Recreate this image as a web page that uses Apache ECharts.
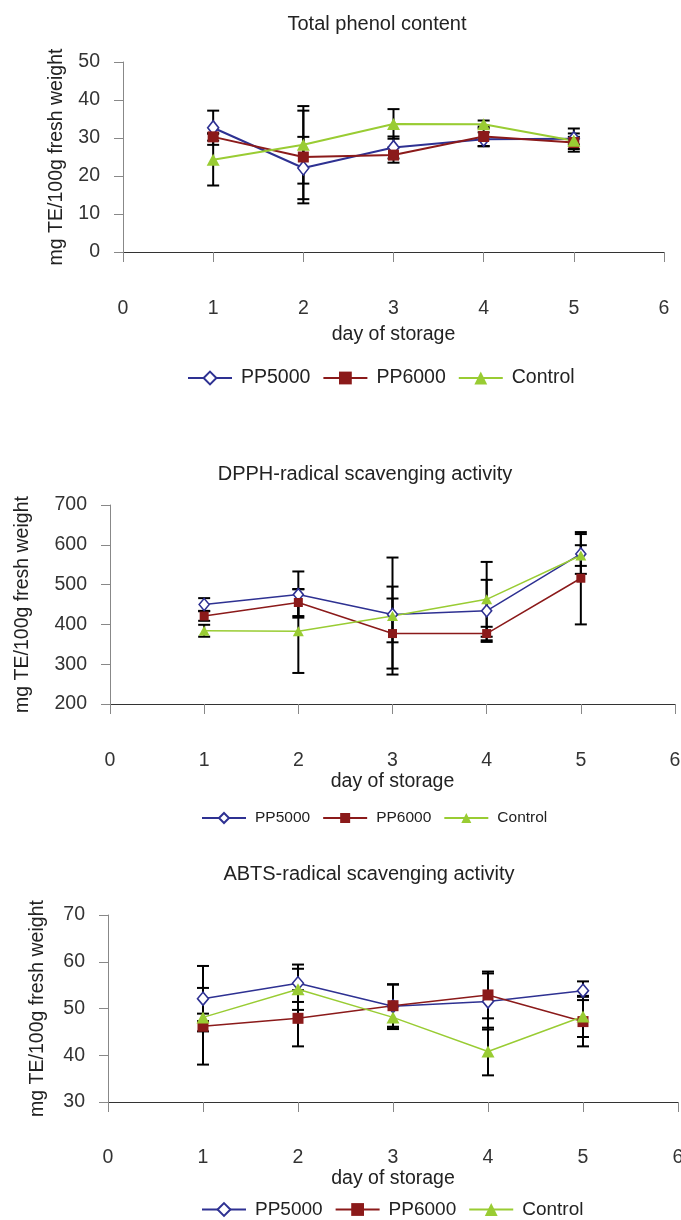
<!DOCTYPE html>
<html>
<head>
<meta charset="utf-8">
<script src="https://cdn.jsdelivr.net/npm/echarts@6/dist/echarts.min.js"></script>
<style>
html,body{margin:0;padding:0;background:#fff;}
#main{width:681px;height:1220px;}
</style>
</head>
<body>
<div id="main"></div>
<script>
// ---------- data ----------
const days = [1, 2, 3, 4, 5];
const xTicks = [0, 1, 2, 3, 4, 5, 6];
const seriesNames = ['PP5000', 'PP6000', 'Control'];

// Total phenol content (mean, error)
const tpPP5000 = [32.7, 22.1, 27.5, 29.7, 29.8];
const tpPP5000Err = [4.5, 8.2, 2.9, 1.8, 2.7];
const tpPP6000 = [30.3, 25.0, 25.5, 30.4, 28.8];
const tpPP6000Err = [1.0, 12.2, 2.0, 2.6, 2.4];
const tpControl = [24.3, 28.2, 33.7, 33.6, 29.3];
const tpControlErr = [6.8, 10.2, 3.9, 1.0, 1.0];

// DPPH-radical scavenging activity
const dpPP5000 = [450, 475, 425, 434, 577];
const dpPP5000Err = [16, 58, 70, 78, 50];
const dpPP6000 = [421, 455, 377, 377, 516];
const dpPP6000Err = [12, 34, 88, 17, 116];
const dpControl = [384, 383, 421, 463, 573];
const dpControlErr = [15, 105, 147, 94, 26];

// ABTS-radical scavenging activity
const abPP5000 = [52.1, 55.4, 50.5, 51.5, 53.8];
const abPP5000Err = [7.0, 4.0, 4.7, 6.0, 2.0];
const abPP6000 = [46.2, 47.9, 50.6, 52.9, 47.2];
const abPP6000Err = [8.2, 6.0, 4.5, 5.0, 5.3];
const abControl = [48.1, 54.1, 48.1, 40.8, 48.3];
const abControlErr = [0.8, 4.4, 2.5, 5.1, 4.4];

const titles = ['Total phenol content', 'DPPH-radical scavenging activity', 'ABTS-radical scavenging activity'];
const yTicks1 = [0, 10, 20, 30, 40, 50];
const yTicks2 = [200, 300, 400, 500, 600, 700];
const yTicks3 = [30, 40, 50, 60, 70];
const xName = 'day of storage';
const yName = 'mg TE/100g fresh weight';

// ---------- layout / style ----------
const FONT = '"Liberation Sans", Arial, Helvetica, sans-serif';
const colors = {PP5000: '#2e3192', PP6000: '#8b1a1a', Control: '#99cc33'};

const charts = [
  {
    title: titles[0], yTicks: yTicks1,
    vals: [tpPP5000, tpPP6000, tpControl], errs: [tpPP5000Err, tpPP6000Err, tpControlErr],
    grid: {left: 123, top: 62, width: 541, height: 190},
    titleX: 377, titleTop: 14,
    yNameGap: 56, xNameGap: 73, xLabelMargin: 47,
    legend: {left: 187, top: 368, fontSize: 19.5, itemHeight: 16},
    lineW: 2, sym: [[11, 14], 11, [13, 12]], capW: 12
  },
  {
    title: titles[1], yTicks: yTicks2,
    vals: [dpPP5000, dpPP6000, dpControl], errs: [dpPP5000Err, dpPP6000Err, dpControlErr],
    grid: {left: 110, top: 505, width: 565, height: 199},
    titleX: 365, titleTop: 464,
    yNameGap: 77, xNameGap: 63, xLabelMargin: 47,
    legend: {left: 201, top: 810, fontSize: 15.5, itemHeight: 12.5},
    lineW: 1.5, sym: [[10, 12], 9, [11, 10]], capW: 12
  },
  {
    title: titles[2], yTicks: yTicks3,
    vals: [abPP5000, abPP6000, abControl], errs: [abPP5000Err, abPP6000Err, abControlErr],
    grid: {left: 108, top: 915, width: 570, height: 187},
    titleX: 369, titleTop: 864,
    yNameGap: 60, xNameGap: 65, xLabelMargin: 46,
    legend: {left: 201, top: 1200, fontSize: 19, itemHeight: 16},
    lineW: 1.5, sym: [[11, 13], 11, [13, 12]], capW: 12
  }
];
const symbols = ['diamond', 'rect', 'triangle'];

function errRender(capW) {
  return function (params, api) {
    const x = api.value(0), lo = api.value(1), hi = api.value(2);
    const p1 = api.coord([x, lo]), p2 = api.coord([x, hi]);
    const style = {stroke: '#000', lineWidth: 2};
    const h = capW / 2;
    return {
      type: 'group',
      children: [
        {type: 'line', shape: {x1: p1[0], y1: p1[1], x2: p2[0], y2: p2[1]}, style: style},
        {type: 'line', shape: {x1: p1[0] - h, y1: p1[1], x2: p1[0] + h, y2: p1[1]}, style: style},
        {type: 'line', shape: {x1: p2[0] - h, y1: p2[1], x2: p2[0] + h, y2: p2[1]}, style: style}
      ]
    };
  };
}

const option = {
  animation: false,
  backgroundColor: '#fff',
  title: [], grid: [], xAxis: [], yAxis: [], legend: [], series: []
};

charts.forEach(function (c, i) {
  option.title.push({
    text: c.title, left: c.titleX, top: c.titleTop, textAlign: 'center', padding: 0,
    textStyle: {fontFamily: FONT, fontSize: 20, fontWeight: 'normal', color: '#222'}
  });
  option.grid.push(Object.assign({outerBoundsMode: 'none', containLabel: false}, c.grid));
  option.xAxis.push({
    type: 'value', gridIndex: i, min: xTicks[0], max: xTicks[xTicks.length - 1], interval: 1,
    name: xName, nameLocation: 'middle', nameGap: c.xNameGap,
    nameTextStyle: {fontFamily: FONT, fontSize: 19.5, color: '#222'},
    axisLine: {show: true, onZero: false, lineStyle: {color: '#333', width: 1}},
    axisTick: {show: true, length: 10, lineStyle: {color: '#888', width: 1}},
    axisLabel: {margin: c.xLabelMargin, fontFamily: FONT, fontSize: 19.5, color: '#333'},
    splitLine: {show: false}
  });
  const yt = c.yTicks;
  option.yAxis.push({
    type: 'value', gridIndex: i, min: yt[0], max: yt[yt.length - 1], interval: yt[1] - yt[0],
    name: yName, nameLocation: 'middle', nameGap: c.yNameGap, nameRotate: 90,
    nameTextStyle: {fontFamily: FONT, fontSize: 19.5, color: '#222'},
    axisLine: {show: true, lineStyle: {color: '#888', width: 1}},
    axisTick: {show: true, length: 9, lineStyle: {color: '#888', width: 1}},
    axisLabel: {margin: 23, fontFamily: FONT, fontSize: 19.5, color: '#333'},
    splitLine: {show: false}
  });
  option.legend.push({
    data: seriesNames, left: c.legend.left, top: c.legend.top, orient: 'horizontal',
    padding: 0, itemGap: 12, itemWidth: 44, itemHeight: c.legend.itemHeight,
    textStyle: {fontFamily: FONT, fontSize: c.legend.fontSize, color: '#222', padding: [0, 0, 0, 4]}
  });
  seriesNames.forEach(function (name, k) {
    const errData = days.map(function (d, j) {
      return [d, c.vals[k][j] - c.errs[k][j], c.vals[k][j] + c.errs[k][j]];
    });
    option.series.push({
      type: 'custom', name: name + ' error ' + (i + 1), xAxisIndex: i, yAxisIndex: i,
      renderItem: errRender(c.capW), data: errData, encode: {x: 0, y: [1, 2]},
      z: 2, silent: true
    });
  });
  seriesNames.forEach(function (name, k) {
    const col = colors[name];
    option.series.push({
      type: 'line', name: name, xAxisIndex: i, yAxisIndex: i,
      data: days.map(function (d, j) { return [d, c.vals[k][j]]; }),
      symbol: symbols[k], symbolSize: c.sym[k], showSymbol: true,
      color: col,
      lineStyle: {color: col, width: c.lineW},
      itemStyle: k === 0 ? {color: '#fff', borderColor: col, borderWidth: 1.6} : {color: col, borderWidth: 0},
      z: 3
    });
  });
});

const chart = echarts.init(document.getElementById('main'), null, {renderer: 'canvas'});
chart.setOption(option);
</script>
</body>
</html>
